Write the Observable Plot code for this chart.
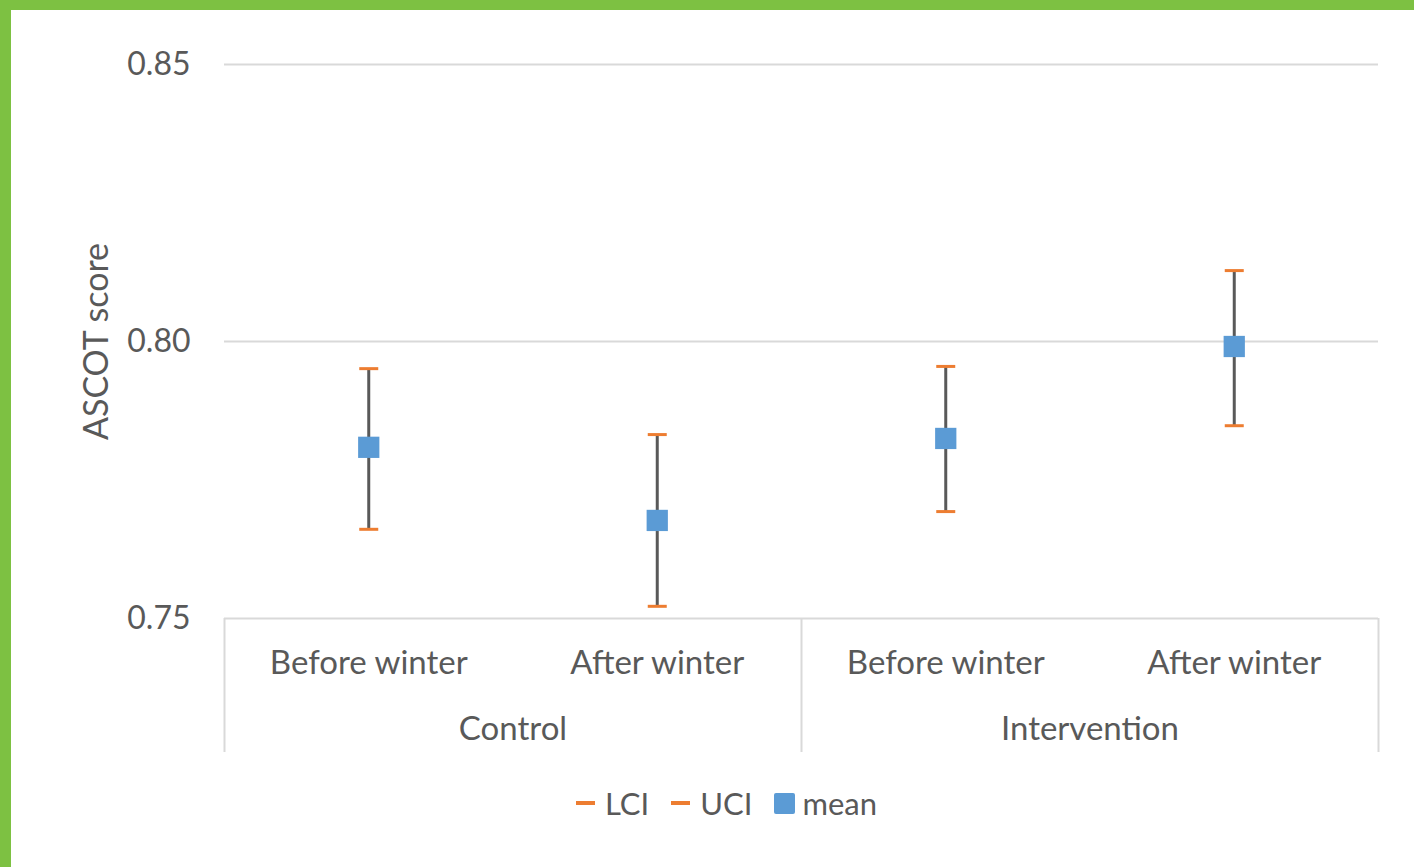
<!DOCTYPE html>
<html>
<head>
<meta charset="utf-8">
<script src="https://cdn.jsdelivr.net/npm/d3@7"></script>
<script src="https://cdn.jsdelivr.net/npm/@observablehq/plot@0.6"></script>
<style>
  html, body { margin: 0; padding: 0; background: #fff; }
  body { width: 1403px; height: 857px; border-top: 10px solid #7dc142; border-left: 11px solid #7dc142; overflow: hidden; position: relative; font-family: Lato, "Open Sans", sans-serif; }
  #chart svg { display: block; }
  #legend { position: absolute; top: 774px; left: 0; width: 1403px; display: flex; justify-content: center; align-items: center; padding-left: 28px; box-sizing: border-box; font-size: 31px; color: #595959; gap: 0; }
  .item { display: flex; align-items: center; margin: 0 11px; }
  .dash { width: 19px; height: 4px; background: #ED7D31; margin-right: 10px; }
  .sq { width: 21px; height: 21px; background: #5B9BD5; margin-right: 7px; border-radius: 2px; }
</style>
</head>
<body>
<div id="chart"></div>
<div id="legend">
  <div class="item"><div class="dash"></div><span>LCI</span></div>
  <div class="item"><div class="dash"></div><span>UCI</span></div>
  <div class="item"><div class="sq"></div><span>mean</span></div>
</div>
<script>
const groups = ["Control", "Control", "Intervention", "Intervention"];
const times = ["Before winter", "After winter", "Before winter", "After winter"];
const lci = [0.7661, 0.7522, 0.7693, 0.7848];
const uci = [0.7951, 0.7832, 0.7955, 0.8128];
const mean = [0.7809, 0.7677, 0.7825, 0.7991];
const yTicks = [0.75, 0.80, 0.85];
const yLabel = "ASCOT score";

const rows = times.map((t, i) => ({i, time: t, group: groups[i], lci: lci[i], uci: uci[i], mean: mean[i]}));
const groupNames = [...new Set(groups)];
const groupData = groupNames.map(g => {
  const idx = rows.filter(r => r.group === g).map(r => r.i);
  return {group: g, center: d3.mean(idx), lo: d3.min(idx) - 0.5, hi: d3.max(idx) + 0.5};
});
const bounds = [...new Set(groupData.flatMap(d => [d.lo, d.hi]))];

const hline = {
  draw(ctx, size) {
    const r = Math.sqrt(size / Math.PI);
    ctx.moveTo(-r, 0);
    ctx.lineTo(r, 0);
  }
};

const chart = Plot.plot({
  width: 1403,
  height: 750,
  marginLeft: 213,
  marginRight: 36,
  marginTop: 54,
  marginBottom: 142,
  style: {fontFamily: "Lato, 'Open Sans', sans-serif", fontSize: "33px", color: "#595959", background: "white", overflow: "visible"},
  x: {domain: [-0.5, times.length - 0.5]},
  y: {domain: [yTicks[0], yTicks[yTicks.length - 1]]},
  marks: [
    Plot.gridY(yTicks, {stroke: "#d9d9d9", strokeOpacity: 1, strokeWidth: 2}),
    Plot.ruleX(bounds, {x: d => d, y1: () => yTicks[0], y2: () => yTicks[0], insetBottom: -134, stroke: "#d9d9d9", strokeWidth: 2}),
    Plot.axisY({ticks: yTicks, tickFormat: d3.format(".2f"), tickSize: 0, tickPadding: 34, label: null, fontSize: 32}),
    Plot.text([yLabel], {frameAnchor: "left", text: d => d, rotate: -90, textAnchor: "middle", dx: -127, fontSize: 34}),
    Plot.axisX({ticks: rows.map(r => r.i), tickFormat: i => times[i], tickSize: 0, tickPadding: 32, label: null}),
    Plot.text(groupData, {x: "center", y: () => yTicks[0], text: "group", dy: 111, lineAnchor: "middle"}),
    Plot.ruleX(rows, {x: "i", y1: "lci", y2: "uci", stroke: "#595959", strokeWidth: 3}),
    Plot.dot(rows, {x: "i", y: "lci", symbol: hline, r: 9.5, stroke: "#ED7D31", strokeWidth: 3}),
    Plot.dot(rows, {x: "i", y: "uci", symbol: hline, r: 9.5, stroke: "#ED7D31", strokeWidth: 3}),
    Plot.dot(rows, {x: "i", y: "mean", symbol: "square", r: 12, fill: "#5B9BD5"})
  ]
});
document.getElementById("chart").appendChild(chart);
</script>
</body>
</html>
